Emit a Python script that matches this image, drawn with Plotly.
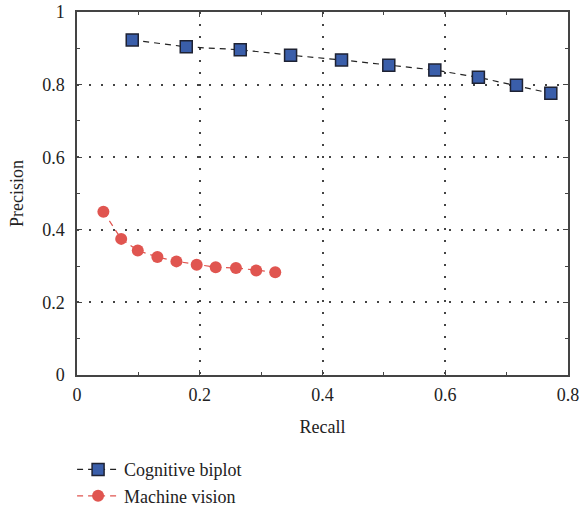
import plotly.graph_objects as go

cog_recall = [0.090, 0.178, 0.266, 0.348, 0.431, 0.508, 0.583, 0.654, 0.716, 0.772]
cog_precision = [0.923, 0.904, 0.896, 0.881, 0.868, 0.853, 0.840, 0.820, 0.798, 0.776]
mv_recall = [0.043, 0.072, 0.099, 0.131, 0.162, 0.195, 0.226, 0.259, 0.292, 0.323]
mv_precision = [0.450, 0.375, 0.343, 0.325, 0.313, 0.304, 0.297, 0.295, 0.288, 0.283]

x_ticks = [0, 0.2, 0.4, 0.6, 0.8]
x_labels = ["0", "0.2", "0.4", "0.6", "0.8"]
y_ticks = [0, 0.2, 0.4, 0.6, 0.8, 1]
y_labels = ["0", "0.2", "0.4", "0.6", "0.8", "1"]

font_fam = "Liberation Serif, DejaVu Serif, serif"
fig = go.Figure()
fig.add_trace(go.Scatter(
    x=cog_recall, y=cog_precision, name="Cognitive biplot",
    mode="lines+markers",
    line=dict(color="#222222", dash="6px,5px", width=1.2),
    marker=dict(symbol="square", size=12, color="#3a5eaa",
                line=dict(color="#1e2233", width=1.5)),
))
fig.add_trace(go.Scatter(
    x=mv_recall, y=mv_precision, name="Machine vision",
    mode="lines+markers",
    line=dict(color="#e05550", dash="6px,5px", width=1.2),
    marker=dict(symbol="circle", size=12, color="#e05550"),
))

axis_common = dict(
    showline=True, linecolor="#444444", linewidth=1.5, mirror="allticks",
    ticks="inside", ticklen=5, tickcolor="#444444", tickwidth=1,
    showgrid=True, gridcolor="#444444", griddash="1.5px,10.5px", gridwidth=1.5,
    zeroline=False,
    tickfont=dict(family=font_fam, size=18, color="#222222"),
    minor=dict(ticks="inside", ticklen=3, tickcolor="#444444", dtick=0.1, showgrid=False),
)
fig.update_xaxes(range=[0, 0.8], tickvals=x_ticks, ticktext=x_labels,
                 ticklabelstandoff=3,
                 title=dict(text="Recall", font=dict(family=font_fam, size=18, color="#222222"), standoff=16),
                 **axis_common)
fig.update_yaxes(range=[0, 1], tickvals=y_ticks, ticktext=y_labels,
                 ticklabelstandoff=7,
                 title=dict(text="Precision", font=dict(family=font_fam, size=18, color="#222222"), standoff=14),
                 **axis_common)

fig.update_layout(
    width=582, height=508,
    margin=dict(l=77, r=14, t=12, b=133, autoexpand=False),
    paper_bgcolor="white", plot_bgcolor="white",
    showlegend=True,
    legend=dict(x=-0.01, xanchor="left", y=-0.21, yanchor="top",
                font=dict(family=font_fam, size=18, color="#222222"),
                bgcolor="rgba(0,0,0,0)", tracegroupgap=0, itemwidth=42),
)
fig.write_html("out.html")
